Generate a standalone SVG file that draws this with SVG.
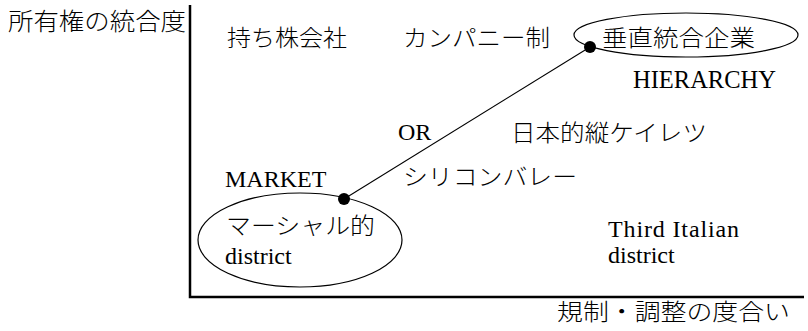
<svg xmlns="http://www.w3.org/2000/svg" width="808" height="331" viewBox="0 0 808 331">
<style>
text{font-family:"Liberation Serif","Noto Sans CJK JP",serif;fill:#000;}
.jp{font-family:"Noto Sans CJK JP","Liberation Serif",sans-serif;font-size:23px;font-weight:300;}
.en{font-size:24px;}
.axis{stroke:#000;stroke-width:2.5;fill:none;}
.ell{stroke:#000;stroke-width:1.2;fill:none;}
.link{stroke:#000;stroke-width:1.1;fill:none;}
.dot{fill:#000;}
</style>
<rect width="808" height="331" fill="#fff"/>
<g id="axes">
<path class="axis" d="M190 5 V297 H804"/>
<text id="y-label" class="jp" x="8" y="30" font-size="24" textLength="178" lengthAdjust="spacingAndGlyphs" style="font-size:24px">所有権の統合度</text>
<text id="x-label" class="jp" x="557" y="320" textLength="233" lengthAdjust="spacingAndGlyphs">規制・調整の度合い</text>
</g>
<g id="connectors">
<line class="link" x1="590" y1="47" x2="344" y2="199"/>
</g>
<g id="node-holding">
<text class="jp" x="227" y="46" textLength="120" lengthAdjust="spacingAndGlyphs">持ち株会社</text>
</g>
<g id="node-company">
<text class="jp" x="403" y="46" textLength="147" lengthAdjust="spacingAndGlyphs">カンパニー制</text>
</g>
<g id="node-vertical">
<ellipse class="ell" cx="686" cy="35" rx="112" ry="22"/>
<circle class="dot" cx="590" cy="47" r="6"/>
<text class="jp" x="602" y="46" textLength="153" lengthAdjust="spacingAndGlyphs">垂直統合企業</text>
</g>
<g id="node-hierarchy">
<text class="en" x="633" y="88" style="font-size:24.5px">HIERARCHY</text>
</g>
<g id="node-or">
<text class="en" x="398" y="140">OR</text>
</g>
<g id="node-keiretsu">
<text class="jp" x="511" y="141" textLength="196" lengthAdjust="spacingAndGlyphs">日本的縦ケイレツ</text>
</g>
<g id="node-market">
<text class="en" x="225" y="187">MARKET</text>
</g>
<g id="node-silicon">
<text class="jp" x="403" y="185" textLength="174" lengthAdjust="spacingAndGlyphs">シリコンバレー</text>
</g>
<g id="node-marshall">
<ellipse class="ell" cx="300" cy="240" rx="102" ry="47"/>
<circle class="dot" cx="344" cy="199" r="6"/>
<text class="jp" x="226" y="234" textLength="149" lengthAdjust="spacingAndGlyphs">マーシャル的</text>
<text class="en" x="225" y="264">district</text>
</g>
<g id="node-third-italian">
<text class="en" x="608" y="237" textLength="131" lengthAdjust="spacing">Third Italian</text>
<text class="en" x="608" y="263">district</text>
</g>
</svg>
